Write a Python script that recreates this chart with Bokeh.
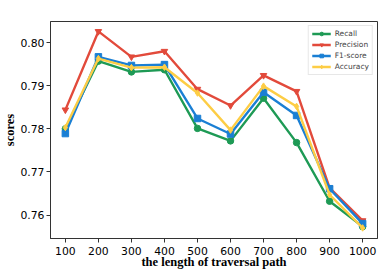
from bokeh.plotting import figure
from bokeh.models import Range1d, FixedTicker, NumeralTickFormatter, Legend, LegendItem
from bokeh.embed import file_html
from bokeh.resources import INLINE

lengths = [100, 200, 300, 400, 500, 600, 700, 800, 900, 1000]
recall = [0.7800, 0.7957, 0.7932, 0.7937, 0.7801, 0.7772, 0.7871, 0.7768, 0.7632, 0.7573]
precision = [0.7844, 0.8026, 0.7967, 0.7980, 0.7892, 0.7854, 0.7924, 0.7887, 0.7663, 0.7587]
f1score = [0.7789, 0.7967, 0.7947, 0.7949, 0.7824, 0.7788, 0.7885, 0.7831, 0.7661, 0.7580]
accuracy = [0.7803, 0.7963, 0.7942, 0.7943, 0.7883, 0.7797, 0.7899, 0.7852, 0.7647, 0.7570]
y_ticks = [0.76, 0.77, 0.78, 0.79, 0.80]

series = [
    ("Recall", recall, "#1e9a55", "circle"),
    ("Precision", precision, "#e24a3b", "inverted_triangle"),
    ("F1-score", f1score, "#1a7fd4", "square"),
    ("Accuracy", accuracy, "#fdcd45", "diamond"),
]

p = figure(width=390, height=271, output_backend="svg", toolbar_location=None,
           x_range=Range1d(55, 1045), y_range=Range1d(0.75455, 0.8049),
           min_border_left=49, min_border_right=13, min_border_top=21, min_border_bottom=33)
p.xgrid.visible = False
p.ygrid.visible = False
p.outline_line_color = "#333333"
p.outline_line_width = 1
p.background_fill_color = "white"
p.border_fill_color = "white"

items = []
for name, vals, color, marker in series:
    r1 = p.line(lengths, vals, line_color=color, line_width=2.4)
    r2 = p.scatter(lengths, vals, marker=marker, size=6.5, fill_color=color, line_color=color)
    items.append(LegendItem(label=name, renderers=[r1, r2]))

legend = Legend(items=items, location="top_right")
legend.label_text_font = "DejaVu Sans"
legend.label_text_font_size = "7.5px"
legend.label_height = 9
legend.glyph_height = 9
legend.glyph_width = 19
legend.spacing = 2
legend.padding = 3
legend.margin = 4
legend.label_standoff = 4
legend.border_line_color = "#d0d0d0"
legend.background_fill_alpha = 0.9
p.add_layout(legend)

p.xaxis.ticker = FixedTicker(ticks=lengths)
p.yaxis.ticker = FixedTicker(ticks=y_ticks)
p.yaxis.formatter = NumeralTickFormatter(format="0.00")
for ax in (p.xaxis[0], p.yaxis[0]):
    ax.major_label_text_font = "DejaVu Sans"
    ax.major_label_text_font_size = "10.8px"
    ax.major_label_text_color = "black"
    ax.axis_line_color = "#333333"
    ax.major_tick_line_color = "#333333"
    ax.major_tick_out = 4
    ax.major_tick_in = 0
    ax.minor_tick_out = 0
    ax.minor_tick_in = 0
    ax.axis_label_text_font = "Liberation Serif"
    ax.axis_label_text_font_style = "bold"
    ax.axis_label_text_font_size = "12.5px"
    ax.axis_label_text_color = "black"
p.xaxis.major_label_standoff = 4
p.xaxis.axis_label_standoff = -3
p.yaxis.major_label_standoff = 2
p.yaxis.axis_label_standoff = 0
p.xaxis.axis_label = "the length of traversal path"
p.yaxis.axis_label = "scores"

open("out.html", "w").write(file_html(p, INLINE))
